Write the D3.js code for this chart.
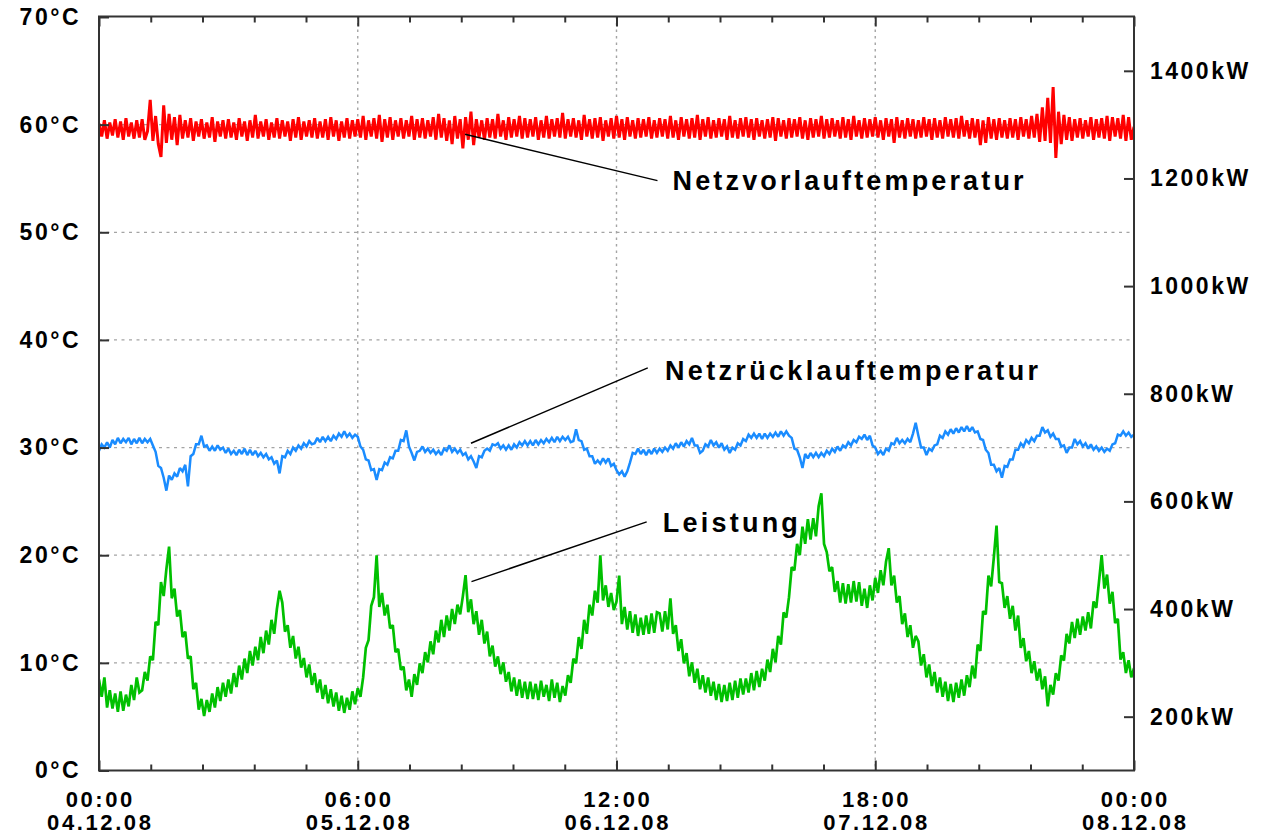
<!DOCTYPE html>
<html>
<head>
<meta charset="utf-8">
<script src="https://cdnjs.cloudflare.com/ajax/libs/d3/7.8.5/d3.min.js"></script>
<style>
  body { margin: 0; background: #fff; }
  svg text { font-family: "Liberation Sans", Arial, sans-serif; font-weight: bold; fill: #000; }
</style>
</head>
<body>
<div class="canvas"></div>
<script>

const dims = { width: 1263, height: 836 };
const plot = { left: 99, right: 1134, top: 16.5, bottom: 770.5 };

// time axis: hours since 04.12.08 00:00, one sample every 15 min
const sampleStepHours = 0.25;
const dayTicks = [0, 24, 48, 72, 96];
const tickTimes = ['00:00', '06:00', '12:00', '18:00', '00:00'];
const tickDates = ['04.12.08', '05.12.08', '06.12.08', '07.12.08', '08.12.08'];
const tempTicks = [0, 10, 20, 30, 40, 50, 60, 70];
const powerTicks = [200, 400, 600, 800, 1000, 1200, 1400];

// Netzvorlauftemperatur (°C)
const supplyTemp = [
  60.1, 58.9, 60.4, 58.7, 60.2, 59.0, 60.5, 58.8, 60.3, 58.6, 60.6, 58.9, 60.2, 58.7, 60.4, 58.8,
  60.5, 58.6, 59.4, 62.3, 58.5, 60.8, 58.2, 57.0, 61.8, 58.3, 61.0, 58.6, 60.7, 58.1, 60.9, 58.7,
  60.4, 58.8, 60.6, 58.5, 60.3, 58.9, 60.5, 58.7, 60.2, 58.8, 60.7, 58.4, 60.3, 58.9, 60.4, 58.7,
  60.5, 58.8, 60.2, 58.6, 60.6, 58.9, 60.3, 58.5, 60.4, 58.8, 60.9, 58.7, 60.3, 58.9, 60.5, 58.6,
  60.2, 58.8, 60.6, 58.7, 60.4, 58.9, 60.3, 58.5, 60.5, 58.8, 60.7, 58.6, 60.3, 58.9, 60.4, 58.8,
  60.6, 58.7, 60.3, 58.8, 60.5, 58.6, 60.7, 58.9, 60.4, 58.5, 60.3, 58.8, 60.6, 58.7, 60.4, 58.9,
  60.5, 58.8, 60.8, 58.6, 60.4, 58.9, 60.6, 58.7, 60.9, 58.4, 60.5, 58.8, 60.7, 58.6, 60.4, 58.9,
  60.6, 58.7, 60.4, 58.9, 60.8, 58.6, 60.5, 58.8, 60.6, 58.7, 60.4, 58.9, 60.7, 58.6, 61.0, 58.8,
  60.6, 58.5, 60.4, 58.2, 60.8, 58.7, 60.5, 57.8, 60.7, 58.6, 61.2, 58.1, 60.5, 58.8, 60.4, 58.6,
  60.6, 58.8, 60.5, 58.7, 61.0, 58.9, 60.4, 58.6, 60.7, 58.8, 60.5, 58.9, 60.8, 58.7, 60.6, 58.8,
  60.5, 58.9, 60.7, 58.6, 60.4, 58.8, 60.8, 58.7, 60.5, 58.9, 60.6, 58.8, 61.1, 58.7, 60.5, 58.9,
  60.6, 58.8, 60.4, 58.6, 60.9, 58.9, 60.5, 58.7, 60.6, 58.8, 60.7, 58.5, 60.4, 58.9, 60.6, 58.7,
  60.8, 58.8, 60.5, 58.6, 60.7, 58.9, 60.4, 58.7, 60.6, 58.8, 60.5, 58.9, 60.7, 58.7, 60.4, 58.8,
  60.6, 58.9, 60.5, 58.7, 60.8, 58.8, 60.4, 58.6, 60.7, 58.9, 60.5, 58.7, 60.6, 58.8, 60.9, 58.6,
  60.5, 58.9, 60.7, 58.7, 60.4, 58.8, 60.6, 58.9, 60.5, 58.6, 60.8, 58.8, 60.4, 58.7, 60.6, 58.9,
  60.7, 58.8, 60.5, 58.6, 60.6, 58.9, 60.4, 58.7, 60.5, 58.8, 60.7, 58.5, 60.6, 58.9, 60.4, 58.7,
  60.6, 58.8, 60.5, 58.9, 60.7, 58.7, 60.4, 58.6, 60.6, 58.8, 60.5, 58.9, 60.8, 58.7, 60.5, 58.8,
  60.6, 58.9, 60.4, 58.7, 60.7, 58.8, 60.5, 58.6, 60.8, 58.9, 60.4, 58.7, 60.6, 58.8, 60.5, 58.9,
  60.7, 58.8, 60.4, 58.6, 60.6, 58.9, 60.5, 58.3, 60.7, 58.8, 60.4, 58.7, 60.6, 58.9, 60.5, 58.7,
  60.4, 58.8, 60.7, 58.9, 60.5, 58.6, 60.6, 58.8, 60.4, 58.7, 60.7, 58.9, 60.5, 58.8, 60.6, 58.7,
  60.8, 58.9, 60.4, 58.7, 60.6, 58.8, 60.5, 58.1, 60.4, 58.3, 60.7, 58.7, 60.5, 58.6, 60.6, 58.8,
  60.4, 58.7, 60.6, 58.8, 60.5, 58.6, 60.7, 58.9, 60.5, 58.7, 60.8, 58.8, 61.0, 58.4, 61.6, 58.5,
  62.5, 58.3, 63.5, 56.9, 61.2, 58.2, 60.9, 58.6, 60.7, 58.5, 60.5, 58.8, 60.6, 58.7, 60.4, 58.9,
  60.7, 58.6, 60.5, 58.8, 60.6, 58.7, 60.8, 58.5, 60.7, 58.9, 60.6, 58.7, 60.9, 58.5, 60.7, 58.6,
  59.8
];

// Netzrücklauftemperatur (°C)
const returnTemp = [
  29.7, 30.3, 30.0, 30.5, 30.0, 30.7, 30.3, 30.9, 30.4, 30.8, 30.5, 30.9, 30.3, 30.8, 30.4, 30.9,
  30.4, 30.8, 30.5, 30.8, 30.2, 29.6, 28.3, 28.1, 27.2, 26.0, 27.4, 27.0, 27.6, 27.3, 28.1, 27.8,
  28.4, 26.4, 29.2, 29.4, 30.3, 30.3, 31.1, 30.1, 30.2, 29.7, 30.1, 29.7, 30.2, 29.8, 30.0, 29.5,
  29.9, 29.4, 29.7, 29.3, 29.8, 29.4, 29.9, 29.3, 29.8, 29.3, 29.7, 29.2, 29.5, 29.1, 29.4, 28.9,
  29.1, 28.5, 28.8, 27.6, 29.2, 29.1, 29.7, 29.4, 30.0, 29.7, 30.2, 29.9, 30.4, 30.1, 30.6, 30.3,
  30.4, 30.9, 30.5, 31.0, 30.6, 31.0, 30.6, 31.1, 30.8, 31.3, 31.0, 31.5, 31.0, 31.3, 30.9, 31.2,
  31.0, 30.1, 29.8, 28.9, 28.8, 27.9, 28.0, 27.0, 28.0, 27.9, 28.6, 28.4, 29.1, 29.0, 29.7, 29.7,
  30.7, 30.6, 31.6, 30.1, 29.5, 28.8, 29.6, 29.7, 30.1, 29.6, 29.9, 29.5, 29.8, 29.4, 29.7, 29.3,
  29.9, 29.7, 30.2, 29.6, 29.9, 29.5, 29.8, 29.3, 29.5, 28.9, 29.2, 28.7, 28.1, 29.2, 29.1, 29.7,
  29.9, 29.7, 30.3, 30.2, 30.4, 29.9, 30.2, 29.8, 30.2, 29.8, 30.3, 30.0, 30.5, 30.2, 30.6, 30.2,
  30.6, 30.2, 30.7, 30.3, 30.7, 30.4, 30.8, 30.5, 30.9, 30.5, 31.0, 30.6, 31.0, 30.7, 31.0, 30.5,
  30.6, 31.7, 30.7, 30.6, 29.8, 29.9, 29.2, 29.2, 28.5, 28.8, 28.5, 29.0, 28.6, 29.0, 28.3, 28.5,
  27.9, 27.5, 27.8, 27.3, 27.8, 28.6, 29.5, 29.4, 29.9, 29.4, 29.8, 29.3, 29.8, 29.4, 29.9, 29.5,
  29.9, 29.6, 30.0, 29.7, 30.2, 29.9, 30.4, 30.0, 30.5, 30.1, 30.6, 30.3, 30.9, 30.2, 30.2, 29.5,
  29.7, 30.3, 30.1, 30.7, 30.2, 30.5, 30.0, 30.4, 29.8, 30.1, 29.5, 30.0, 29.8, 30.4, 30.2, 30.8,
  30.6, 31.2, 30.9, 31.3, 30.9, 31.3, 30.8, 31.3, 30.9, 31.3, 31.0, 31.4, 31.0, 31.5, 31.1, 31.5,
  31.1, 30.9, 29.9, 29.8, 29.1, 28.1, 29.4, 29.0, 29.5, 29.1, 29.5, 29.1, 29.5, 29.2, 29.7, 29.4,
  29.9, 29.6, 30.1, 29.7, 30.2, 30.0, 30.5, 30.2, 30.7, 30.5, 31.0, 30.8, 31.2, 30.7, 31.1, 30.2,
  30.0, 29.4, 29.7, 29.3, 29.9, 29.7, 30.4, 30.3, 30.9, 30.4, 30.7, 30.4, 30.8, 30.5, 31.3, 32.3,
  31.1, 30.0, 30.0, 29.3, 29.9, 29.7, 30.2, 30.3, 31.1, 30.9, 31.5, 31.2, 31.7, 31.3, 31.8, 31.4,
  31.9, 31.5, 32.0, 31.5, 31.9, 31.4, 31.5, 30.8, 30.7, 29.8, 29.5, 28.4, 28.4, 27.8, 28.1, 27.2,
  28.3, 28.2, 28.9, 28.9, 29.8, 29.8, 30.4, 30.1, 30.7, 30.4, 30.9, 30.6, 31.1, 31.1, 31.9, 31.4,
  31.6, 31.0, 31.3, 30.8, 30.8, 30.1, 30.2, 29.5, 30.0, 30.0, 30.8, 30.3, 30.6, 30.1, 30.4, 29.9,
  30.3, 29.8, 30.1, 29.7, 30.0, 29.6, 29.9, 29.7, 30.3, 30.4, 31.2, 31.1, 31.5, 31.1, 31.4, 31.0,
  31.2
];

// Leistung (kW)
const heatPower = [
  269, 237, 273, 217, 249, 215, 243, 209, 247, 211, 241, 219, 259, 231, 273, 245,
  249, 283, 267, 312, 305, 376, 370, 450, 424, 474, 516, 420, 438, 386, 398, 348,
  358, 308, 312, 251, 263, 213, 233, 201, 231, 209, 243, 217, 255, 229, 263, 237,
  269, 243, 281, 255, 295, 269, 308, 281, 322, 295, 330, 305, 348, 318, 360, 334,
  380, 354, 400, 434, 412, 358, 370, 328, 350, 308, 330, 291, 309, 273, 297, 259,
  281, 245, 269, 233, 259, 225, 251, 219, 245, 211, 239, 207, 235, 213, 247, 223,
  253, 237, 273, 328, 342, 406, 422, 500, 404, 430, 388, 408, 364, 370, 320, 326,
  287, 293, 249, 269, 237, 279, 259, 299, 281, 320, 301, 340, 316, 360, 338, 380,
  348, 388, 360, 400, 372, 408, 390, 424, 463, 394, 418, 372, 396, 352, 380, 336,
  358, 312, 332, 293, 312, 279, 301, 265, 283, 247, 273, 239, 269, 235, 265, 233,
  265, 233, 261, 231, 267, 237, 259, 229, 269, 235, 263, 227, 257, 239, 277, 263,
  308, 299, 348, 326, 380, 354, 408, 388, 434, 412, 500, 416, 444, 404, 430, 398,
  414, 462, 372, 404, 362, 396, 356, 390, 350, 384, 352, 388, 354, 392, 356, 394,
  392, 358, 396, 362, 420, 354, 370, 322, 344, 299, 318, 275, 301, 263, 289, 251,
  277, 245, 273, 239, 265, 231, 261, 227, 259, 229, 263, 231, 267, 235, 271, 241,
  271, 245, 281, 249, 285, 255, 289, 267, 306, 283, 326, 301, 350, 334, 394, 384,
  422, 478, 472, 521, 500, 553, 521, 567, 529, 569, 535, 591, 615, 521, 506, 470,
  478, 432, 452, 412, 448, 410, 446, 412, 452, 414, 450, 406, 438, 402, 444, 416,
  458, 430, 472, 444, 488, 513, 444, 462, 412, 424, 372, 392, 348, 370, 328, 350,
  340, 295, 316, 273, 297, 257, 283, 245, 273, 237, 265, 229, 261, 227, 263, 235,
  269, 239, 277, 255, 295, 271, 334, 322, 396, 390, 462, 442, 496, 555, 450, 448,
  402, 424, 382, 406, 360, 388, 328, 346, 303, 322, 281, 303, 267, 289, 251, 275,
  219, 259, 241, 281, 267, 314, 304, 354, 336, 376, 346, 382, 352, 386, 360, 394,
  364, 414, 402, 450, 500, 438, 464, 410, 432, 374, 382, 306, 320, 281, 305, 273,
  290
];

// annotation labels with leader lines (data units)
const labelNames = ['Netzvorlauftemperatur', 'Netzrücklauftemperatur', 'Leistung'];
const labelAxis = ['temp', 'temp', 'power'];
const leaderFrom = [[33.95, 59.1], [34.5, 30.4], [34.55, 451]];
const leaderTo = [[51.8, 54.8], [50.9, 37.4], [50.8, 562]];
const labelAt = [[53.2, 53.9], [52.5, 36.3], [52.3, 543]];
const labelWidth = [351, 373, 135];

const svg = d3.select('.canvas')
  .append('svg')
  .attr('width', dims.width)
  .attr('height', dims.height);

const x = d3.scaleLinear().domain([0, 96]).range([plot.left, plot.right]);
const yTemp = d3.scaleLinear().domain([0, 70]).range([plot.bottom, 17]);
const yPower = d3.scaleLinear().domain([100, 1500]).range([plot.bottom, 17]);
const yFor = axis => axis === 'power' ? yPower : yTemp;

svg.append('defs').append('clipPath').attr('id', 'plotClip')
  .append('rect')
  .attr('x', plot.left).attr('y', plot.top)
  .attr('width', plot.right - plot.left).attr('height', plot.bottom - plot.top);

// grid
const grid = svg.append('g');
grid.selectAll('line.h')
  .data(tempTicks.filter(d => d > 0 && d < 70))
  .enter().append('line')
  .attr('x1', plot.left).attr('x2', plot.right)
  .attr('y1', d => yTemp(d)).attr('y2', d => yTemp(d))
  .attr('stroke', '#a4a4a4').attr('stroke-width', 1.2)
  .attr('stroke-dasharray', '3,4.5');
grid.selectAll('line.v')
  .data(dayTicks.slice(1, -1))
  .enter().append('line')
  .attr('x1', d => x(d)).attr('x2', d => x(d))
  .attr('y1', plot.top).attr('y2', plot.bottom)
  .attr('stroke', '#a4a4a4').attr('stroke-width', 1.4)
  .attr('stroke-dasharray', '2.5,4');

// series
const series = [
  { values: supplyTemp, y: yTemp, colour: '#ff0000', width: 3.0 },
  { values: returnTemp, y: yTemp, colour: '#1a8cff', width: 2.5 },
  { values: heatPower, y: yPower, colour: '#00c000', width: 2.7 }
];

const lines = svg.append('g').attr('clip-path', 'url(#plotClip)');
series.forEach(s => {
  const line = d3.line()
    .x((d, i) => x(i * sampleStepHours))
    .y(d => s.y(d));
  lines.append('path')
    .attr('d', line(s.values))
    .attr('fill', 'none')
    .attr('stroke', s.colour)
    .attr('stroke-width', s.width)
    .attr('stroke-linejoin', 'miter')
    .attr('stroke-miterlimit', 2);
});

// labels + leader lines
const notes = svg.append('g');
labelNames.forEach((name, i) => {
  const y = yFor(labelAxis[i]);
  notes.append('line')
    .attr('x1', x(leaderFrom[i][0])).attr('y1', y(leaderFrom[i][1]))
    .attr('x2', x(leaderTo[i][0])).attr('y2', y(leaderTo[i][1]))
    .attr('stroke', '#000').attr('stroke-width', 1.5);
  notes.append('text')
    .attr('x', x(labelAt[i][0])).attr('y', y(labelAt[i][1]))
    .attr('font-size', 27)
    .attr('textLength', labelWidth[i])
    .attr('lengthAdjust', 'spacing')
    .text(name);
});

// axes
const styleAxis = g => {
  g.select('.domain').remove();
  g.selectAll('.tick line').attr('stroke', '#333').attr('stroke-width', 2);
  g.selectAll('.tick text')
    .attr('font-size', 23)
    .attr('letter-spacing', '2.5px')
    .attr('fill', '#000');
};

svg.append('g')
  .attr('transform', `translate(${plot.left},0)`)
  .call(d3.axisLeft(yTemp).tickValues(tempTicks).tickSize(-10).tickPadding(18)
    .tickFormat(d => d + '°C'))
  .call(styleAxis);

svg.append('g')
  .attr('transform', `translate(${plot.right},0)`)
  .call(d3.axisRight(yPower).tickValues(powerTicks).tickSize(-10).tickPadding(16)
    .tickFormat(d => d + 'kW'))
  .call(styleAxis);

const minorTicks = d3.range(0, 96.001, 4.8).filter(d => Math.abs(d / 24 - Math.round(d / 24)) > 0.01);

[[d3.axisBottom, plot.bottom], [d3.axisTop, plot.top]].forEach(([axisFn, yPos]) => {
  svg.append('g')
    .attr('transform', `translate(0,${yPos})`)
    .call(axisFn(x).tickValues(dayTicks).tickSize(-10).tickFormat(''))
    .call(styleAxis);
  svg.append('g')
    .attr('transform', `translate(0,${yPos})`)
    .call(axisFn(x).tickValues(minorTicks).tickSize(-6).tickFormat(''))
    .call(styleAxis);
});

// two-line time labels
const xLabels = svg.append('g');
dayTicks.forEach((d, i) => {
  const t = xLabels.append('text')
    .attr('text-anchor', 'middle')
    .attr('font-size', 22)
    .attr('letter-spacing', '2.6px');
  t.append('tspan').attr('x', x(d) + 1.3).attr('y', 807).text(tickTimes[i]);
  t.append('tspan').attr('x', x(d) + 1.3).attr('y', 830).text(tickDates[i]);
});

// plot frame
svg.append('rect')
  .attr('x', plot.left).attr('y', plot.top)
  .attr('width', plot.right - plot.left).attr('height', plot.bottom - plot.top)
  .attr('fill', 'none')
  .attr('stroke', '#333')
  .attr('stroke-width', 2);

</script>
</body>
</html>
